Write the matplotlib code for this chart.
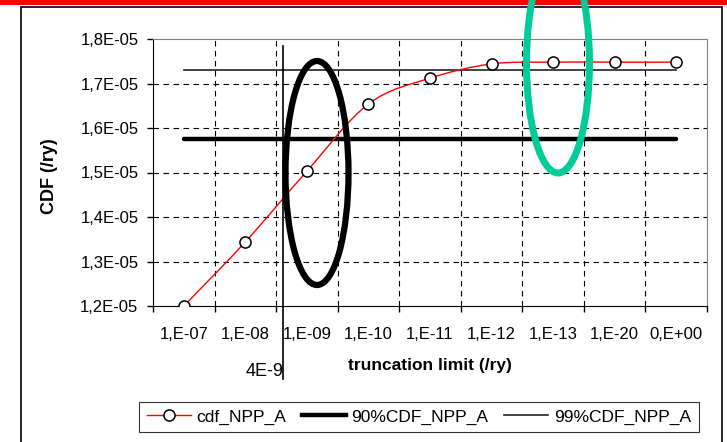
import matplotlib
matplotlib.use("Agg")
import matplotlib.pyplot as plt
from matplotlib.path import Path
from matplotlib.patches import PathPatch, Ellipse, Rectangle
from matplotlib.lines import Line2D

plt.rcParams['font.family'] = ['Liberation Sans', 'DejaVu Sans']

# data
categories = ['1,E-07', '1,E-08', '1,E-09', '1,E-10', '1,E-11',
              '1,E-12', '1,E-13', '1,E-20', '0,E+00']
cdf_npp_a = [1.200e-05, 1.344e-05, 1.503e-05, 1.654e-05, 1.712e-05,
             1.744e-05, 1.748e-05, 1.748e-05, 1.748e-05]
cdf90 = 1.575e-05
cdf99 = 1.730e-05
cut_pos = 1.62          # "4E-9" marker, between 1,E-08 and 1,E-09
y_ticks = [1.2e-05, 1.3e-05, 1.4e-05, 1.5e-05, 1.6e-05, 1.7e-05, 1.8e-05]
y_labels = ['1,2E-05', '1,3E-05', '1,4E-05', '1,5E-05', '1,6E-05', '1,7E-05', '1,8E-05']

W, H = 727, 442
fig = plt.figure(figsize=(W / 100, H / 100), dpi=100)
ax = fig.add_axes([153 / W, 1 - 306 / H, (707 - 153) / W, (306 - 39) / H])

xs = list(range(len(categories)))

# smoothed line, like excel "smoothed line" (catmull-rom -> bezier)
verts = [(xs[0], cdf_npp_a[0])]
codes = [Path.MOVETO]
n = len(xs)
for i in range(n - 1):
    p0 = (xs[max(i - 1, 0)], cdf_npp_a[max(i - 1, 0)])
    p1 = (xs[i], cdf_npp_a[i])
    p2 = (xs[i + 1], cdf_npp_a[i + 1])
    p3 = (xs[min(i + 2, n - 1)], cdf_npp_a[min(i + 2, n - 1)])
    c1 = (p1[0] + (p2[0] - p0[0]) / 6, p1[1] + (p2[1] - p0[1]) / 6)
    c2 = (p2[0] - (p3[0] - p1[0]) / 6, p2[1] - (p3[1] - p1[1]) / 6)
    verts += [c1, c2, p2]
    codes += [Path.CURVE4] * 3
ax.add_patch(PathPatch(Path(verts, codes), fill=False, edgecolor='red', lw=1.0, zorder=4))
ax.plot(xs, cdf_npp_a, ls='none', marker='o', ms=8, mfc='white', mec='black', mew=1.1, zorder=5)

ax.plot([xs[0], xs[-1]], [cdf90, cdf90], color='black', lw=3.2, solid_capstyle='round', zorder=3)
ax.plot([xs[0], xs[-1]], [cdf99, cdf99], color='#222222', lw=1.2, zorder=3)

# vertical marker line at 4E-9
ax.plot([cut_pos, cut_pos], [0.974, -0.275], color='black', lw=1.2,
        transform=ax.get_xaxis_transform(), clip_on=False, zorder=6)
ax.text(cut_pos, -0.245, '4E-9', transform=ax.get_xaxis_transform(),
        ha='right', va='center', fontsize=13)

ax.set_xlim(-0.5, n - 0.5)
ax.set_ylim(y_ticks[0], y_ticks[-1])
ax.set_yticks(y_ticks)
ax.set_yticklabels(y_labels)
ax.set_xticks([i - 0.5 for i in range(n + 1)])
ax.set_xticklabels([])
ax.set_xticks(xs, minor=True)
ax.set_xticklabels(categories, minor=True)
ax.tick_params(axis='x', which='minor', length=0, pad=15, labelsize=12)
ax.tick_params(axis='x', which='major', length=4.5, width=1)
ax.tick_params(axis='y', length=4.5, width=1, pad=6, labelsize=12)

for v in y_ticks[1:-1]:
    ax.axhline(v, color='black', lw=0.8, ls=(0, (5, 4)), zorder=1)
for i in range(1, n):
    ax.axvline(i - 0.5, color='black', lw=0.8, ls=(0, (5, 4)), zorder=1)

ax.spines['top'].set_color('#808080')
ax.spines['right'].set_color('#808080')

ax.set_ylabel('CDF (/ry)', fontsize=13, fontweight='bold')
ax.yaxis.set_label_coords(-0.172, 0.485)
ax.set_xlabel('truncation limit (/ry)', fontsize=12.5, fontweight='bold', va='center')
ax.xaxis.set_label_coords(0.5, -0.222)

handles = [
    Line2D([], [], color='red', lw=1.0, marker='o', ms=8, mfc='white', mec='black', mew=1.1),
    Line2D([], [], color='black', lw=3.2),
    Line2D([], [], color='#222222', lw=1.2),
]
leg = fig.legend(handles, ['cdf_NPP_A', '90%CDF_NPP_A', '99%CDF_NPP_A'],
                 loc='center', bbox_to_anchor=(419 / W, 1 - 417 / H), ncol=3,
                 fontsize=12.5, frameon=True, fancybox=False, handlelength=2.5,
                 handletextpad=0.35, columnspacing=0.9, borderpad=0.45)
leg.get_frame().set_edgecolor('black')
leg.get_frame().set_linewidth(0.8)

# outer frame and red strip
fig.patches.append(Rectangle((21 / W, -0.1), (722 - 21) / W, 1.1 - 7 / H, transform=fig.transFigure,
                             fill=False, edgecolor='black', lw=1.2))
fig.patches.append(Rectangle((0, 1 - 4.5 / H), 1, 4.5 / H, transform=fig.transFigure,
                             facecolor='red', edgecolor='none'))

# ellipses
fig.patches.append(Ellipse((317 / W, 1 - 173 / H), 63 / W, 224 / H, transform=fig.transFigure,
                           fill=False, edgecolor='black', lw=4.5, zorder=10))
fig.patches.append(Ellipse((558 / W, 1 - 63 / H), 63 / W, 220 / H, angle=0, transform=fig.transFigure,
                           fill=False, edgecolor='#00CC99', lw=5, zorder=10))

fig.savefig('out.png', dpi=100)
